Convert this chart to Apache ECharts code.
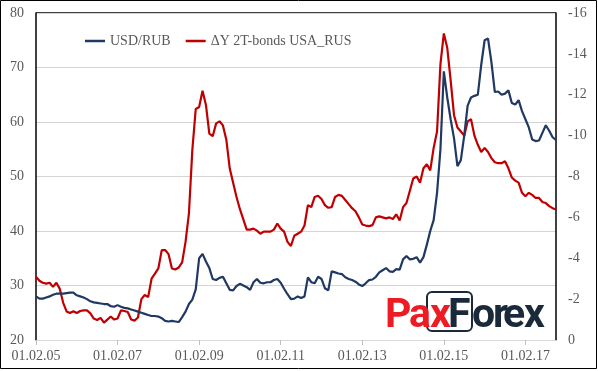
<!DOCTYPE html>
<html><head><meta charset="utf-8">
<script src="https://cdn.jsdelivr.net/npm/echarts@6/dist/echarts.min.js"></script>
<style>html,body{margin:0;padding:0;background:#fff}#c{width:598px;height:371px}</style>
</head><body><div id="c"></div>
<script>
// monthly observations starting 01.02.2005
const startYear = 2005, startMonth = 2, nPoints = 154;
const categories = [];
for (let i = 0; i < nPoints; i++) {
  const m = (startMonth - 1 + i) % 12 + 1;
  const y = startYear + Math.floor((startMonth - 1 + i) / 12);
  categories.push('01.' + String(m).padStart(2, '0') + '.' + String(y % 100).padStart(2, '0'));
}
const usdRub = [
28.0,27.6,27.6,27.8,28.0,28.3,28.5,28.5,28.5,28.6,28.7,28.7,28.2,28.0,27.8,27.5,27.1,26.9,26.8,26.7,
26.6,26.6,26.2,26.1,26.4,26.1,25.9,25.8,25.6,25.4,25.2,25.0,24.8,24.6,24.4,24.4,24.3,24.0,23.5,23.4,
23.5,23.4,23.3,24.2,25.2,26.6,27.4,29.3,35.0,35.8,34.4,33.2,31.2,31.0,31.4,31.6,30.4,29.2,29.1,29.9,
30.3,30.0,29.7,29.2,30.6,31.2,30.5,30.4,30.6,30.6,31.0,31.2,30.5,29.4,28.4,27.5,27.6,28.0,27.7,28.0,
31.5,30.6,30.4,31.6,31.2,29.5,29.1,32.6,32.4,32.2,32.1,31.5,31.2,31.0,30.7,30.2,29.9,30.4,31.0,31.1,
31.6,32.4,32.8,33.2,32.6,32.5,33.0,32.9,34.8,35.4,34.8,34.9,35.2,34.2,35.2,37.5,40.0,42.0,47.0,55.0,
69.3,64.5,60.5,57.0,51.9,53.0,57.5,63.0,64.5,64.8,65.0,70.5,75.0,75.3,71.0,65.5,65.6,65.0,65.2,65.8,
63.5,63.2,64.0,62.0,60.5,59.0,56.8,56.5,56.6,58.0,59.4,58.4,57.2,56.7
];
const bondSpread = [
-3.1,-2.9,-2.8,-2.76,-2.8,-2.6,-2.8,-2.5,-1.82,-1.4,-1.32,-1.41,-1.32,-1.42,-1.45,-1.45,-1.3,-1.05,-0.98,-1.08,
-0.85,-1.0,-1.15,-1.0,-1.05,-1.45,-1.42,-1.37,-1.0,-0.95,-1.1,-2.0,-2.2,-2.1,-3.0,-3.25,-3.5,-4.4,-4.4,-4.2,
-3.5,-3.45,-3.55,-3.8,-4.8,-6.2,-9.3,-11.3,-11.4,-12.2,-11.5,-10.1,-9.97,-10.6,-10.7,-10.5,-9.8,-8.4,-7.7,-7.0,
-6.4,-5.9,-5.4,-5.4,-5.45,-5.35,-5.2,-5.3,-5.3,-5.3,-5.4,-5.7,-5.45,-5.3,-4.8,-4.6,-5.1,-5.2,-5.3,-5.6,
-6.6,-6.5,-7.0,-7.06,-6.9,-6.6,-6.47,-6.5,-7.0,-7.1,-7.05,-6.85,-6.65,-6.45,-6.3,-6.0,-5.65,-5.6,-5.57,-5.62,
-6.0,-6.05,-6.0,-5.95,-6.0,-5.92,-6.15,-5.85,-6.5,-6.7,-7.3,-7.9,-8.0,-7.7,-8.4,-8.6,-8.3,-9.4,-10.2,-13.5,
-15.0,-14.3,-12.7,-11.0,-10.4,-10.2,-10.0,-10.7,-10.8,-10.0,-9.55,-9.2,-9.4,-9.2,-8.9,-8.7,-8.65,-8.65,-8.75,-8.4,
-7.95,-7.8,-7.7,-7.2,-7.03,-7.2,-7.1,-6.95,-6.95,-6.75,-6.7,-6.55,-6.45,-6.38
];
const seriesNames = ['USD/RUB', 'ΔY 2T-bonds USA_RUS'];
const leftTicks = {min: 20, max: 80, interval: 10};
const rightTicks = {min: -16, max: 0, interval: 2};

const FONT = '"Liberation Serif", "Times New Roman", serif';
const LABEL = '#595959';
const BLUE = '#1F3864', RED = '#C00000';
const chart = echarts.init(document.getElementById('c'), null, {renderer: 'canvas'});
const G = {left: 36, top: 13, right: 556, bottom: 340};
const logoFont = 'bold 41px Roboto, "Open Sans", sans-serif';
const logoDark = '#1B2A3A', logoRed = '#ED1C24';
function L(t, x, c) { return {type: 'text', x: x, y: 296, silent: true, z: 10,
  style: {text: t, fill: c, font: logoFont, verticalAlign: 'top', align: 'left'}}; }
chart.setOption({
  animation: false,
  backgroundColor: '#fff',
  grid: {left: G.left, top: G.top, right: 598 - G.right, bottom: 371 - G.bottom, containLabel: false},
  legend: {
    left: 80, top: 29, itemWidth: 20, itemHeight: 2.5, itemGap: 15, icon: 'rect',
    textStyle: {fontFamily: FONT, fontSize: 14, color: LABEL},
    data: seriesNames
  },
  xAxis: {
    type: 'category', data: categories, boundaryGap: false,
    axisLine: {show: true, lineStyle: {color: '#d9d9d9', width: 1}},
    axisTick: {show: true, interval: 23, length: 5, lineStyle: {color: '#bfbfbf'}},
    axisLabel: {interval: 23, margin: 9, fontFamily: FONT, fontSize: 14, color: LABEL},
    splitLine: {show: false}
  },
  yAxis: [{
    type: 'value', position: 'left', min: leftTicks.min, max: leftTicks.max, interval: leftTicks.interval,
    axisLine: {show: true, lineStyle: {color: '#000', width: 1.5}},
    axisTick: {show: false},
    axisLabel: {margin: 12, fontFamily: FONT, fontSize: 14, color: LABEL},
    splitLine: {show: true, lineStyle: {color: '#d4d4d4', width: 1}}
  }, {
    type: 'value', position: 'right', inverse: true, min: rightTicks.min, max: rightTicks.max, interval: rightTicks.interval,
    axisLine: {show: true, lineStyle: {color: '#000', width: 1.5}},
    axisTick: {show: false},
    axisLabel: {margin: 12, fontFamily: FONT, fontSize: 14, color: LABEL},
    splitLine: {show: false}
  }],
  series: [{
    name: seriesNames[0], type: 'line', data: usdRub, yAxisIndex: 0, symbol: 'none',
    lineStyle: {color: BLUE, width: 2.2}, itemStyle: {color: BLUE}, z: 3
  }, {
    name: seriesNames[1], type: 'line', data: bondSpread, yAxisIndex: 1, symbol: 'none',
    lineStyle: {color: RED, width: 2.2}, itemStyle: {color: RED}, z: 2
  }],
  graphic: [
    {type: 'line', silent: true, shape: {x1: G.left, y1: G.top, x2: G.right, y2: G.top}, style: {stroke: '#000', lineWidth: 1.5}},
    {type: 'rect', silent: true, shape: {x: 0.5, y: 0.5, width: 596, height: 368}, style: {fill: 'none', stroke: '#000', lineWidth: 1}},
    {type: 'rect', silent: true, z: 10, shape: {x: 427, y: 292, width: 45, height: 39, r: 5}, style: {fill: 'none', stroke: logoDark, lineWidth: 2}},
    L('P', 385, logoRed), L('a', 409, logoRed), L('x', 430, logoRed), L('F', 448, logoDark),
    L('o', 472, logoDark), L('r', 493, logoDark), L('e', 503, logoDark), L('x', 524, logoDark)
  ]
});
</script></body></html>
